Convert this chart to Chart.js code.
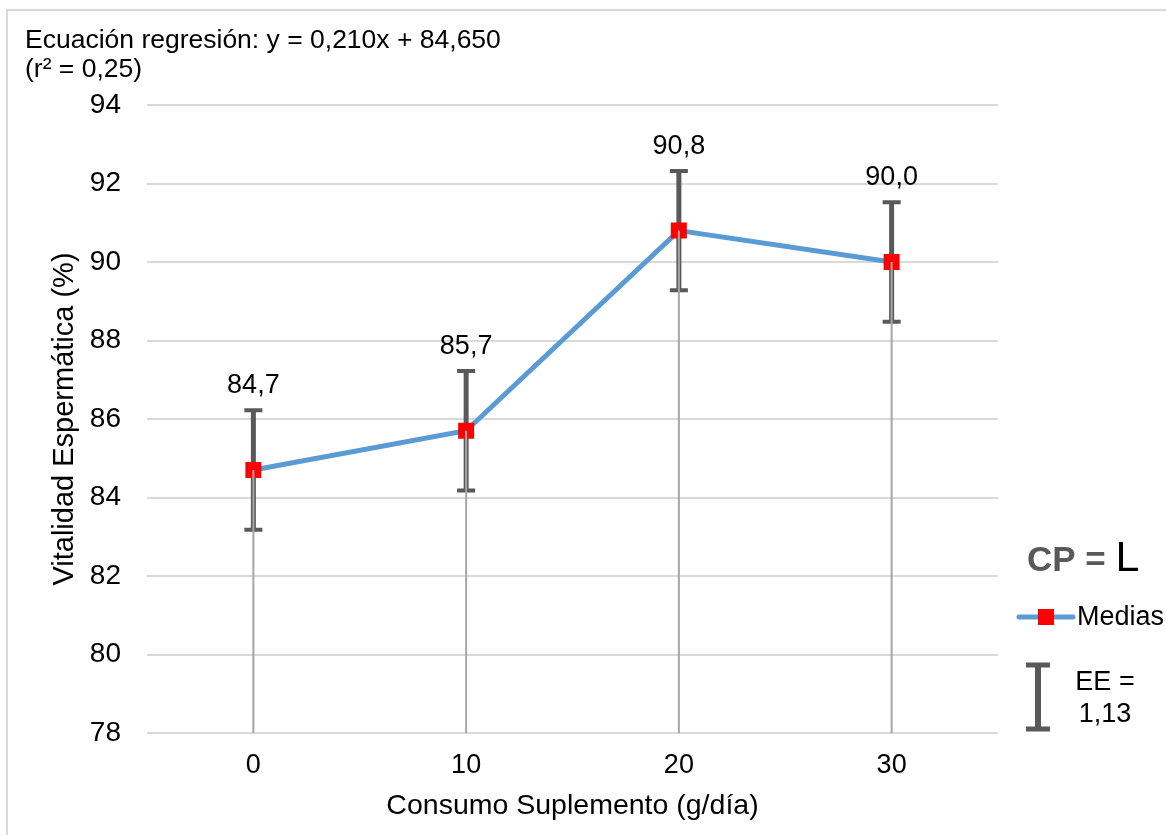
<!DOCTYPE html>
<html><head><meta charset="utf-8">
<script src="https://cdn.jsdelivr.net/npm/chart.js@4.4.1/dist/chart.umd.min.js"></script>
<style>html,body{margin:0;padding:0;background:#fff;}canvas{display:block;}</style>
</head><body>
<canvas id="c" width="1166" height="835"></canvas>
<script>
const categories = ['0', '10', '20', '30'];
const means = [84.7, 85.7, 90.8, 90.0];
const errors = [1.52, 1.52, 1.52, 1.52];
const valueLabels = ['84,7', '85,7', '90,8', '90,0'];
const yMin = 78, yMax = 94, yStep = 2;
const xTitle = 'Consumo Suplemento (g/día)';
const yTitle = 'Vitalidad Espermática (%)';
const eqLine1 = 'Ecuación regresión: y = 0,210x + 84,650';
const eqLine2 = '(r² = 0,25)';
const legendTitleA = 'CP = ';
const legendTitleB = 'L';
const seriesName = 'Medias';
const eeLine1 = 'EE =';
const eeLine2 = '1,13';

const FONT = '"Liberation Sans", Arial, sans-serif';
const ERR_COLOR = '#595959';
const LINE_COLOR = '#5b9bd5';
const DROP_COLOR = '#a6a6a6';

const overlay = {
  id: 'overlay',
  beforeDraw(chart) {
    const ctx = chart.ctx;
    ctx.save();
    ctx.fillStyle = '#fff';
    ctx.fillRect(0, 0, chart.width, chart.height);
    ctx.strokeStyle = '#d9d9d9';
    ctx.lineWidth = 2;
    ctx.strokeRect(7, 10, chart.width + 20, chart.height + 20);
    ctx.restore();
  },
  beforeDatasetsDraw(chart) {
    const ctx = chart.ctx, x = chart.scales.x, y = chart.scales.y;
    ctx.save();
    ctx.strokeStyle = ERR_COLOR;
    means.forEach((m, i) => {
      const px = x.getPixelForValue(i);
      const top = y.getPixelForValue(m + errors[i]);
      const bot = y.getPixelForValue(m - errors[i]);
      ctx.lineWidth = 5;
      ctx.beginPath();
      ctx.moveTo(px, top); ctx.lineTo(px, bot);
      ctx.stroke();
      ctx.lineWidth = 4;
      ctx.beginPath();
      ctx.moveTo(px - 9, top); ctx.lineTo(px + 9, top);
      ctx.moveTo(px - 9, bot); ctx.lineTo(px + 9, bot);
      ctx.stroke();
    });
    ctx.restore();
  },
  afterDatasetsDraw(chart) {
    const ctx = chart.ctx, x = chart.scales.x, y = chart.scales.y;
    ctx.save();
    ctx.strokeStyle = DROP_COLOR;
    ctx.lineWidth = 2;
    means.forEach((m, i) => {
      const px = x.getPixelForValue(i);
      ctx.beginPath();
      ctx.moveTo(px, y.getPixelForValue(m));
      ctx.lineTo(px, chart.chartArea.bottom);
      ctx.stroke();
    });
    ctx.fillStyle = '#000';
    ctx.font = '27px ' + FONT;
    ctx.textAlign = 'center';
    ctx.textBaseline = 'middle';
    means.forEach((m, i) => {
      const px = x.getPixelForValue(i);
      ctx.fillText(valueLabels[i], px, y.getPixelForValue(m) - 84);
    });
    ctx.restore();
  },
  afterDraw(chart) {
    const ctx = chart.ctx, ca = chart.chartArea;
    ctx.save();
    ctx.fillStyle = '#000';
    ctx.font = '26.5px ' + FONT;
    ctx.textBaseline = 'alphabetic';
    ctx.textAlign = 'left';
    ctx.fillText(eqLine1, 25, 48);
    ctx.fillText(eqLine2, 25, 77);
    // axis titles
    ctx.font = '28.5px ' + FONT;
    ctx.textAlign = 'center';
    ctx.textBaseline = 'alphabetic';
    ctx.fillText(xTitle, (ca.left + ca.right) / 2, 814);
    ctx.save();
    ctx.font = '29px ' + FONT;
    ctx.translate(73, (ca.top + ca.bottom) / 2);
    ctx.rotate(-Math.PI / 2);
    ctx.fillText(yTitle, 0, 0);
    ctx.restore();
    // legend title
    ctx.textAlign = 'left';
    ctx.textBaseline = 'alphabetic';
    ctx.fillStyle = '#595959';
    ctx.font = 'bold 35px ' + FONT;
    ctx.fillText(legendTitleA, 1027, 571);
    const wA = ctx.measureText(legendTitleA).width;
    ctx.fillStyle = '#000';
    ctx.font = '43px ' + FONT;
    ctx.fillText(legendTitleB, 1027 + wA, 571);
    // series legend
    ctx.strokeStyle = LINE_COLOR;
    ctx.lineWidth = 5;
    ctx.lineCap = 'round';
    ctx.beginPath();
    ctx.moveTo(1019, 617); ctx.lineTo(1073, 617);
    ctx.stroke();
    ctx.lineCap = 'butt';
    ctx.fillStyle = '#ff0000';
    ctx.fillRect(1038, 609, 16, 16);
    ctx.fillStyle = '#000';
    ctx.font = '27px ' + FONT;
    ctx.textBaseline = 'middle';
    ctx.fillText(seriesName, 1077, 618);
    // EE legend
    ctx.strokeStyle = ERR_COLOR;
    ctx.lineWidth = 6;
    ctx.beginPath();
    ctx.moveTo(1038, 665); ctx.lineTo(1038, 729);
    ctx.stroke();
    ctx.lineWidth = 5;
    ctx.beginPath();
    ctx.moveTo(1026, 665); ctx.lineTo(1050, 665);
    ctx.moveTo(1026, 729); ctx.lineTo(1050, 729);
    ctx.stroke();
    ctx.textAlign = 'center';
    ctx.fillText(eeLine1, 1105, 683);
    ctx.fillText(eeLine2, 1105, 715);
    ctx.restore();
  }
};

new Chart(document.getElementById('c'), {
  type: 'line',
  data: {
    labels: categories,
    datasets: [{
      label: seriesName,
      data: means,
      borderColor: LINE_COLOR,
      borderWidth: 5,
      pointStyle: 'rect',
      pointRadius: 11.3,
      pointBackgroundColor: '#ff0000',
      pointBorderWidth: 0,
      pointBorderColor: '#ff0000',
      tension: 0
    }]
  },
  options: {
    responsive: false,
    animation: false,
    layout: { padding: { left: 0, right: 168, top: 105, bottom: 0 } },
    plugins: { legend: { display: false }, tooltip: { enabled: false } },
    scales: {
      x: {
        type: 'category',
        offset: true,
        grid: { display: false, drawTicks: false },
        border: { display: false },
        ticks: { font: { family: FONT, size: 27 }, color: '#000', padding: 16 },
        afterFit(s) { s.height = 102; }
      },
      y: {
        min: yMin, max: yMax,
        ticks: { stepSize: yStep, font: { family: FONT, size: 28 }, color: '#000', padding: 26 },
        grid: { color: '#d9d9d9', lineWidth: 2, drawTicks: false },
        border: { display: false },
        afterFit(s) { s.width = 147; }
      }
    }
  },
  plugins: [overlay]
});
</script>
</body></html>
